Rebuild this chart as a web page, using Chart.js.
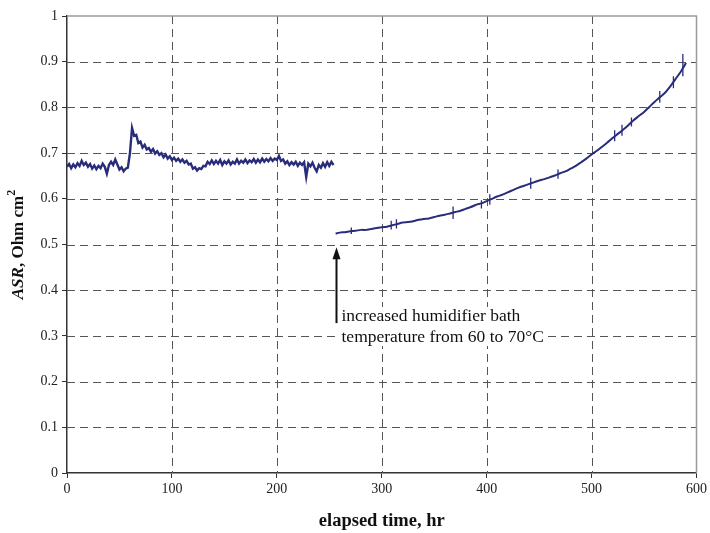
<!DOCTYPE html>
<html lang="en">
<head>
<meta charset="UTF-8">
<title>ASR vs elapsed time</title>
<script src="https://cdn.jsdelivr.net/npm/chart.js"></script>
<style>
  html, body { margin: 0; padding: 0; background: #fff; }
  #wrap { width: 710px; height: 533px; }
</style>
</head>
<body>
<div id="wrap"><canvas id="asrChart" width="710" height="533"></canvas></div>
<script>
// ---- data ----
// first run: sampled every 2 hr from 0 hr
const run1Start = 0;
const run1Step = 2;
const run1Asr = [
  0.670, 0.676, 0.667, 0.675, 0.669, 0.678, 0.672, 0.683, 0.674, 0.679, 0.670,
  0.676, 0.666, 0.673, 0.665, 0.672, 0.667, 0.677, 0.670, 0.655, 0.674,
  0.681, 0.674, 0.686, 0.675, 0.664, 0.669, 0.660, 0.666, 0.668,
  0.700, 0.755, 0.738, 0.740, 0.722,
  0.725, 0.712, 0.718, 0.708, 0.711, 0.703, 0.709, 0.699, 0.704, 0.696,
  0.700, 0.691, 0.697, 0.688, 0.693, 0.685, 0.690, 0.683, 0.688, 0.681, 0.686, 0.679, 0.683, 0.675, 0.677,
  0.666, 0.669, 0.662, 0.667, 0.665, 0.672, 0.671,
  0.681, 0.676, 0.684, 0.676, 0.683, 0.677, 0.685, 0.674, 0.682, 0.677, 0.684, 0.675, 0.681, 0.677,
  0.686, 0.677, 0.683, 0.679, 0.686, 0.678, 0.684, 0.680, 0.687,
  0.679, 0.686, 0.680, 0.688, 0.681, 0.687, 0.682, 0.689, 0.683, 0.688, 0.685, 0.694, 0.683,
  0.686, 0.677, 0.682, 0.674, 0.680, 0.675, 0.681, 0.672, 0.679, 0.674, 0.680, 0.648, 0.677,
  0.671, 0.679, 0.668, 0.660, 0.674, 0.668, 0.678, 0.670, 0.680, 0.672, 0.681, 0.674
];

// second run (after the humidifier change)
const run2Hours = [
  256, 260, 265, 270, 275, 280, 285, 290, 295, 300, 305, 310, 315, 320, 325, 330, 335, 340,
  345, 350, 355, 360, 365, 370, 375, 380, 385, 390, 395, 400, 405, 410, 415, 420, 425, 430,
  435, 440, 445, 450, 455, 460, 465, 470, 475, 480, 485, 490, 495, 500, 505, 510, 515, 520,
  525, 530, 535, 540, 545, 550, 555, 560, 565, 570, 575, 580, 585, 590
];
const run2Asr = [
  0.524, 0.526, 0.527, 0.529, 0.530, 0.532, 0.532, 0.534, 0.536, 0.538, 0.539, 0.542, 0.545, 0.548, 0.549, 0.551, 0.554, 0.556,
  0.557, 0.560, 0.563, 0.565, 0.568, 0.571, 0.574, 0.578, 0.582, 0.587, 0.590, 0.595, 0.600, 0.605, 0.609, 0.614, 0.619, 0.624,
  0.628, 0.632, 0.636, 0.640, 0.643, 0.647, 0.651, 0.656, 0.660, 0.666, 0.672, 0.680, 0.688, 0.697, 0.705, 0.714, 0.723, 0.733,
  0.742, 0.751, 0.761, 0.772, 0.781, 0.790, 0.801, 0.812, 0.822, 0.832, 0.846, 0.862, 0.878, 0.897
];

// short vertical spikes on the second run
const spikeHours = [271, 309, 314, 368, 395, 403, 442, 468, 522, 529, 538, 565, 578, 587];
const spikeTop = [0.537, 0.552, 0.555, 0.583, 0.597, 0.610, 0.646, 0.664, 0.750, 0.762, 0.778, 0.836, 0.868, 0.917];
const spikeBottom = [0.523, 0.533, 0.535, 0.556, 0.579, 0.587, 0.622, 0.644, 0.726, 0.738, 0.758, 0.810, 0.842, 0.868];

const xTicks = [0, 100, 200, 300, 400, 500, 600];
const yTicks = [0, 0.1, 0.2, 0.3, 0.4, 0.5, 0.6, 0.7, 0.8, 0.9, 1];

// arrow + note
const noteLines = ['increased humidifier bath', 'temperature from 60 to 70\u00B0C'];
const arrowAt = { x: 256.5, from: 0.328, to: 0.494 };

const serif = '"Liberation Serif", "Times New Roman", serif';
const lineColor = '#282c7a';

const run1Points = run1Asr.map((v, i) => ({ x: run1Start + i * run1Step, y: v }));
const run2Points = run2Asr.map((v, i) => ({ x: run2Hours[i], y: v }));
const spikePoints = [];
spikeHours.forEach((h, i) => {
  spikePoints.push({ x: h, y: spikeTop[i] }, { x: h, y: spikeBottom[i] }, { x: h, y: null });
});

// dashed grid, gray frame on top/right
const gridPlugin = {
  id: 'dashGrid',
  beforeDatasetsDraw(chart) {
    const { ctx, chartArea: a, scales } = chart;
    ctx.save();
    ctx.strokeStyle = '#555';
    ctx.lineWidth = 1;
    ctx.setLineDash([8, 5]);
    yTicks.forEach(v => {
      if (v === 0 || v === 1) return;
      const y = Math.round(scales.y.getPixelForValue(v)) + 0.5;
      ctx.beginPath(); ctx.moveTo(a.left, y); ctx.lineTo(a.right, y); ctx.stroke();
    });
    xTicks.forEach(v => {
      if (v === 0 || v === 600) return;
      const x = Math.round(scales.x.getPixelForValue(v)) + 0.5;
      ctx.beginPath(); ctx.moveTo(x, a.top); ctx.lineTo(x, a.bottom); ctx.stroke();
    });
    ctx.setLineDash([]);
    ctx.strokeStyle = '#9a9a9a';
    ctx.lineWidth = 1.5;
    ctx.beginPath();
    ctx.moveTo(a.left, a.top); ctx.lineTo(a.right, a.top); ctx.lineTo(a.right, a.bottom);
    ctx.stroke();
    ctx.restore();
  }
};

// axis titles + annotation
const textPlugin = {
  id: 'texts',
  afterDraw(chart) {
    const { ctx, chartArea: a, scales } = chart;
    ctx.save();
    ctx.fillStyle = '#111';

    // x title
    ctx.font = 'bold 18.5px ' + serif;
    ctx.textAlign = 'center';
    ctx.textBaseline = 'middle';
    ctx.fillText('elapsed time, hr', (a.left + a.right) / 2, 521);

    // y title (rotated, mixed fonts)
    ctx.translate(19, (a.top + a.bottom) / 2);
    ctx.rotate(-Math.PI / 2);
    const parts = [
      { t: 'ASR', f: 'italic bold 17px ' + serif, dy: 0 },
      { t: ', Ohm cm', f: 'bold 17px ' + serif, dy: 0 },
      { t: '2', f: 'bold 12px ' + serif, dy: -7 }
    ];
    let total = 0;
    parts.forEach(p => { ctx.font = p.f; total += ctx.measureText(p.t).width; });
    let x0 = -total / 2;
    ctx.textAlign = 'left';
    parts.forEach(p => {
      ctx.font = p.f;
      ctx.fillText(p.t, x0, p.dy);
      x0 += ctx.measureText(p.t).width;
    });
    ctx.restore();

    // arrow
    ctx.save();
    const ax = Math.round(scales.x.getPixelForValue(arrowAt.x)) + 0.5;
    const yFrom = scales.y.getPixelForValue(arrowAt.from);
    const yTo = scales.y.getPixelForValue(arrowAt.to);
    ctx.strokeStyle = '#111';
    ctx.fillStyle = '#111';
    ctx.lineWidth = 2;
    ctx.beginPath(); ctx.moveTo(ax, yFrom); ctx.lineTo(ax, yTo + 10); ctx.stroke();
    ctx.beginPath();
    ctx.moveTo(ax, yTo); ctx.lineTo(ax - 4, yTo + 12); ctx.lineTo(ax + 4, yTo + 12);
    ctx.closePath(); ctx.fill();

    // note with white background
    ctx.font = '17.5px ' + serif;
    ctx.textAlign = 'left';
    ctx.textBaseline = 'middle';
    const tx = ax + 5;
    const ys = [316, 337];
    noteLines.forEach((s, i) => {
      const w = ctx.measureText(s).width;
      ctx.fillStyle = '#fff';
      ctx.fillRect(tx - 3, ys[i] - 9, w + 6, 18);
      ctx.fillStyle = '#111';
      ctx.fillText(s, tx, ys[i]);
    });
    ctx.restore();
  }
};

new Chart(document.getElementById('asrChart'), {
  type: 'line',
  data: {
    datasets: [
      { data: run1Points, borderColor: lineColor, borderWidth: 2.4, pointRadius: 0, tension: 0 },
      { data: run2Points, borderColor: lineColor, borderWidth: 2, pointRadius: 0, tension: 0.3 },
      { data: spikePoints, borderColor: lineColor, borderWidth: 1.3, pointRadius: 0, spanGaps: false }
    ]
  },
  options: {
    responsive: false,
    animation: false,
    layout: { padding: { left: 0, right: 13, top: 16, bottom: 0 } },
    plugins: { legend: { display: false }, tooltip: { enabled: false } },
    scales: {
      x: {
        type: 'linear', min: 0, max: 600,
        afterBuildTicks(s) { s.ticks = xTicks.map(v => ({ value: v })); },
        afterFit(s) { s.height = 60; },
        grid: { drawOnChartArea: false, drawTicks: true, tickLength: 5, color: '#333' },
        border: { display: true, color: '#333', width: 1.5 },
        ticks: { font: { family: serif, size: 14 }, color: '#222', padding: 3, maxRotation: 0 }
      },
      y: {
        type: 'linear', min: 0, max: 1,
        afterBuildTicks(s) { s.ticks = yTicks.map(v => ({ value: v })); },
        afterFit(s) { s.width = 67; },
        grid: { drawOnChartArea: false, drawTicks: true, tickLength: 5, color: '#333' },
        border: { display: true, color: '#333', width: 1.5 },
        ticks: { font: { family: serif, size: 14 }, color: '#222', padding: 4, callback: v => String(v) }
      }
    }
  },
  plugins: [gridPlugin, textPlugin]
});
</script>
</body>
</html>
